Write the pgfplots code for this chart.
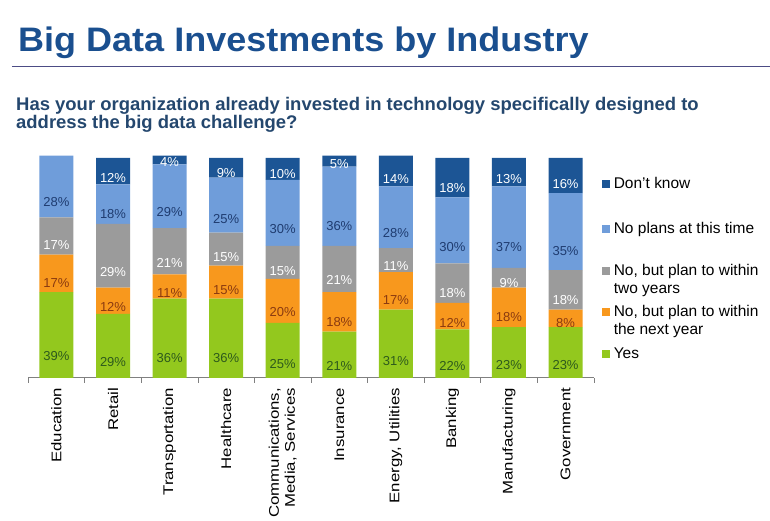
\documentclass[border=0pt]{standalone}
\usepackage{pgfplots}
\pgfplotsset{compat=1.18}
\usepackage{pgfplotstable}
\usepackage{fontspec}
\setmainfont{Liberation Sans}
\definecolor{dk}{HTML}{1C5595}
\definecolor{lb}{HTML}{6F9DDA}
\definecolor{gr}{HTML}{9B9B9B}
\definecolor{orn}{HTML}{F8981D}
\definecolor{gn}{HTML}{93C81E}
\definecolor{titleblue}{HTML}{1A4F8F}
\definecolor{subblue}{HTML}{24476E}
\definecolor{lbtext}{HTML}{1F3C70}
\definecolor{ortext}{HTML}{8A3A10}
\definecolor{gntext}{HTML}{2E5A1C}
\pgfplotstableread{
x yes next two noplans dontknow
0 39 17 17 28 0
1 29 12 29 18 12
2 36 11 21 29 4
3 36 15 15 25 9
4 25 20 15 30 10
5 21 18 21 36 5
6 31 17 11 28 14
7 22 12 18 30 18
8 23 18 9 37 13
9 23 8 18 35 16
}\data
\begin{document}
\begin{tikzpicture}[x=1pt,y=1pt]
\path (0,0) rectangle (770,521);
\node[anchor=base west, font=\fontsize{34}{40}\selectfont\bfseries, text=titleblue, inner sep=0pt, xscale=1.06] at (18,469) {Big Data Investments by Industry};
\draw[color=black!45!blue!40!gray, line width=1pt] (12,454) -- (770,454);
\node[anchor=base west, font=\fontsize{18.3}{22}\selectfont\bfseries, text=subblue, inner sep=0pt, xscale=1.01] at (16,410) {Has your organization already invested in technology specifically designed to};
\node[anchor=base west, font=\fontsize{18.3}{22}\selectfont\bfseries, text=subblue, inner sep=0pt, xscale=1.01] at (16,392) {address the big data challenge?};
\begin{axis}[
  at={(28.2pt,143pt)}, anchor=south west,
  scale only axis, width=566pt, height=222.2pt,
  xmin=-0.5, xmax=9.5, ymin=0, ymax=101,
  ybar stacked, bar width=34pt,
  axis x line*=bottom, axis y line=none,
  axis line style={gray, line width=0.6pt},
  xtick={0,...,9},
  xticklabels={Education, Retail, Transportation, Healthcare, {Communications,\\Media, Services}, Insurance, {Energy, Utilities}, Banking, Manufacturing, Government},
  x tick label style={rotate=90, xscale=1.2, anchor=east, align=right, font=\fontsize{14}{16}\selectfont, inner sep=0pt},
  xticklabel shift=10pt,
  major tick length=0pt,
  minor xtick={-0.5,0.5,...,9.5},
  minor tick length=5pt,
  tick align=outside,
  minor tick style={gray, line width=0.6pt},
  /pgf/number format/assume math mode=true,
  visualization depends on={rawy \as \rawy},
  nodes near coords={\ifdim\rawy pt>0.5pt\relax\pgfmathprintnumber[fixed,precision=0,assume math mode=true]{\rawy}\%\fi},
  every node near coord/.append style={anchor=center, yshift={-0.55pt*\rawy}, font=\fontsize{13}{13}\selectfont},
]
\addplot[fill=gn, draw=none, every node near coord/.append style={text=gntext}] table[x=x, y=yes] {\data};
\addplot[fill=orn, draw=none, every node near coord/.append style={text=ortext}] table[x=x, y=next] {\data};
\addplot[fill=gr, draw=none, every node near coord/.append style={text=white}] table[x=x, y=two] {\data};
\addplot[fill=lb, draw=none, every node near coord/.append style={text=lbtext}] table[x=x, y=noplans] {\data};
\addplot[fill=dk, draw=none, every node near coord/.append style={text=white}] table[x=x, y=dontknow] {\data};
\end{axis}
\begin{scope}[every node/.style={anchor=base west, inner sep=0pt, font=\fontsize{15.5}{18}\selectfont}]
\fill[dk] (602,333) rectangle (610,341);
\node at (614,332) {Don’t know};
\fill[lb] (602,288) rectangle (610,296);
\node at (614,287) {No plans at this time};
\fill[gr] (602,246) rectangle (610,254);
\node at (614,245) {No, but plan to within};
\node at (614,227) {two years};
\fill[orn] (602,205) rectangle (610,213);
\node at (614,204) {No, but plan to within};
\node at (614,186) {the next year};
\fill[gn] (602,163) rectangle (610,171);
\node at (614,162) {Yes};
\end{scope}
\end{tikzpicture}
\end{document}
